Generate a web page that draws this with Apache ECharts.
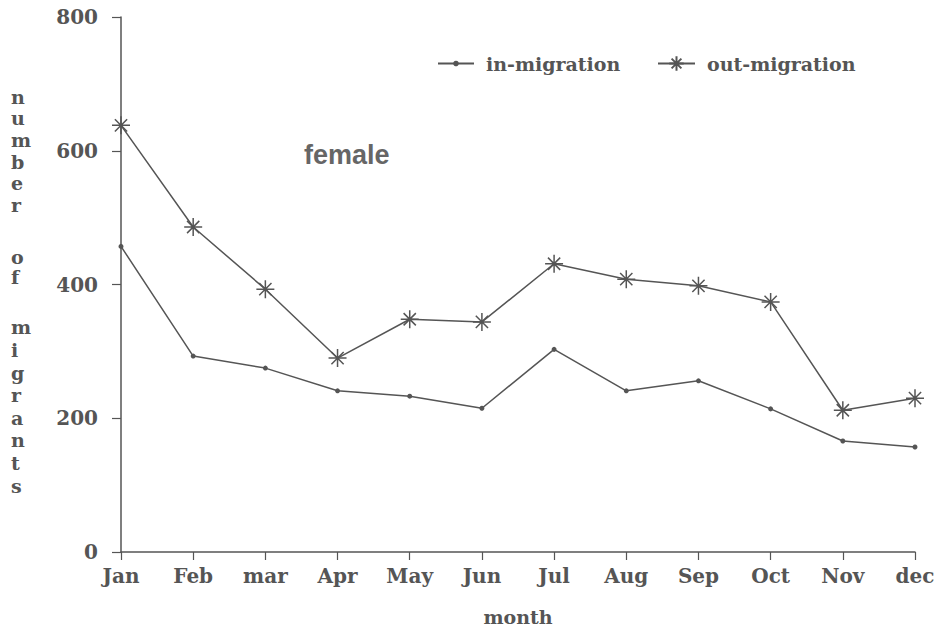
<!DOCTYPE html>
<html lang="en">
<head>
    <meta charset="UTF-8">
    <title>female migrants by month</title>
    <script src="https://cdn.jsdelivr.net/npm/echarts@6/dist/echarts.min.js"></script>
    <style type="text/css">
        html, body { margin: 0; height: 100%; background: #fff; }
    </style>
</head>
<body>
<div id="main" style="width: 944px;height:629px;"></div>
<script>
    const months = ['Jan', 'Feb', 'mar', 'Apr', 'May', 'Jun', 'Jul', 'Aug', 'Sep', 'Oct', 'Nov', 'dec'];
    const inMigration = [457, 293, 275, 241, 233, 215, 303, 241, 256, 214, 166, 157];
    const outMigration = [638, 486, 393, 290, 348, 344, 431, 408, 398, 374, 212, 230];
    const yTicks = [0, 200, 400, 600, 800];

    const ink = '#555';
    const serif = '"DejaVu Serif", "Liberation Serif", serif';
    const star = 'path://M0,5L10,5M5,0L5,10M1.6,1.6L8.4,8.4M8.4,1.6L1.6,8.4';

    // vertical y-axis caption, one letter per line
    function stacked(word, top, lh) {
        return {
            type: 'text',
            left: 11,
            top: top,
            style: {
                text: word.split('').join('\n'),
                fontFamily: serif,
                fontSize: 19,
                fontWeight: 'bold',
                lineHeight: lh,
                align: 'center',
                fill: ink
            }
        };
    }

    const legendText = {fontFamily: serif, fontSize: 19, fontWeight: 'bold', color: ink, padding: [0, 0, 0, 7]};

    const myChart = echarts.init(document.getElementById('main'), null, {renderer: 'svg'});
    const option = {
        animation: false,
        backgroundColor: '#fff',
        title: {
            text: 'female',
            left: 299,
            top: 136,
            textStyle: {fontFamily: '"Liberation Sans", Arial, sans-serif', fontSize: 27, fontWeight: 'bold', color: '#666'}
        },
        legend: [{
            left: 437,
            top: 54,
            padding: 0,
            itemWidth: 36,
            itemHeight: 7,
            textStyle: legendText,
            data: ['in-migration']
        }, {
            left: 657,
            top: 54,
            padding: 0,
            itemWidth: 37,
            itemHeight: 18,
            textStyle: legendText,
            data: ['out-migration']
        }],
        grid: {left: 121, right: 29, top: 17, bottom: 77, outerBoundsMode: 'none'},
        xAxis: {
            type: 'category',
            boundaryGap: false,
            data: months,
            name: 'month',
            nameLocation: 'middle',
            nameGap: 55,
            nameTextStyle: {fontFamily: serif, fontSize: 19, fontWeight: 'bold', color: ink},
            axisLine: {lineStyle: {color: ink, width: 1.5}},
            axisTick: {length: 8, lineStyle: {color: ink, width: 1.2}},
            axisLabel: {margin: 14, fontFamily: serif, fontSize: 20, fontWeight: 'bold', color: ink}
        },
        yAxis: {
            type: 'value',
            min: yTicks[0],
            max: yTicks[yTicks.length - 1],
            interval: 200,
            splitLine: {show: false},
            axisLine: {show: true, lineStyle: {color: ink, width: 1.5}},
            axisTick: {show: true, length: 9, lineStyle: {color: ink, width: 1.2}},
            axisLabel: {margin: 23, fontFamily: serif, fontSize: 20, fontWeight: 'bold', color: ink}
        },
        graphic: [
            stacked('number', 86, 21.6),
            stacked('of', 247, 20),
            stacked('migrants', 316, 22.6)
        ],
        series: [
            {
                name: 'in-migration',
                type: 'line',
                data: inMigration,
                symbol: 'circle',
                symbolSize: 5,
                lineStyle: {color: ink, width: 1.5},
                itemStyle: {color: ink}
            },
            {
                name: 'out-migration',
                type: 'line',
                data: outMigration,
                symbol: star,
                symbolSize: 18,
                lineStyle: {color: ink, width: 1.5},
                itemStyle: {color: ink, borderColor: ink, borderWidth: 1.5}
            }
        ]
    };
    myChart.setOption(option);
</script>
</body>
</html>
